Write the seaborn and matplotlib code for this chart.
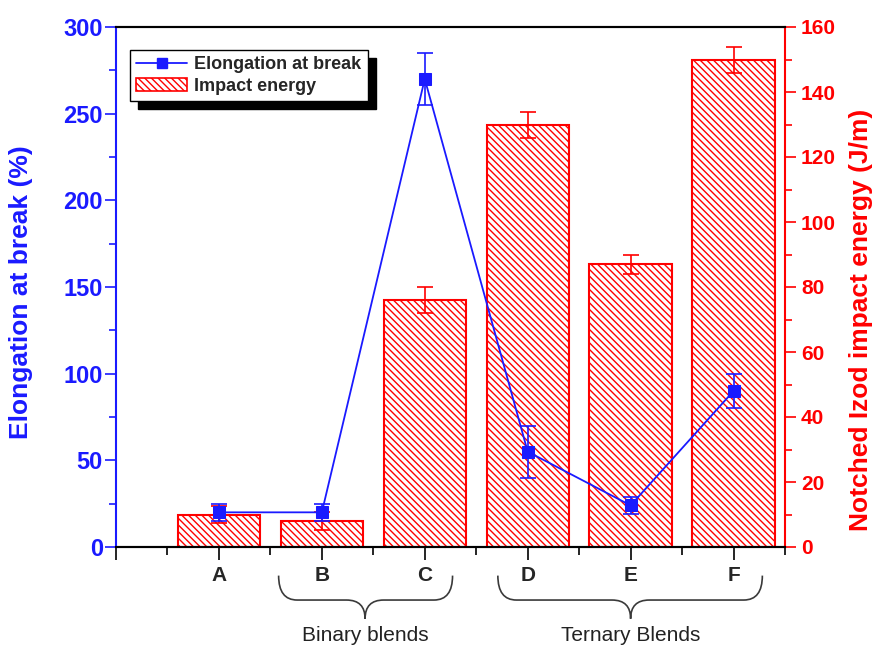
import numpy as np
import pandas as pd
import matplotlib
matplotlib.use("Agg")
import matplotlib.pyplot as plt
import seaborn as sns
from matplotlib.path import Path
from matplotlib.patches import PathPatch, Patch
from matplotlib.lines import Line2D
from matplotlib.ticker import MultipleLocator

# data
samples = ["A", "B", "C", "D", "E", "F"]
positions = [1, 2, 3, 4, 5, 6]
elongation = [20, 20, 270, 55, 24, 90]
elongation_err = [5, 5, 15, 15, 5, 10]
impact = [10, 8, 76, 130, 87, 150]
impact_err = [2.5, 2.7, 4, 4, 3, 4]

groups = ["Binary blends", "Ternary Blends"]
group_span = [(1.58, 3.27, 2.42), (3.71, 6.28, 5.0)]

sns.set_style("ticks")
plt.rcParams["font.family"] = ["Liberation Sans", "DejaVu Sans"]
plt.rcParams["hatch.color"] = "red"
plt.rcParams["hatch.linewidth"] = 1.0

BLUE = "#1a1aff"
RED = "#ff0000"

df = pd.DataFrame({"pos": positions, "sample": samples,
                   "elong": elongation, "impact": impact})

fig = plt.figure(figsize=(8.76, 6.49), dpi=100)
ax = fig.add_axes([116 / 876, 102 / 649, 669 / 876, 520 / 649])
ax2 = ax.twinx()

# bars on the right axis
sns.barplot(data=df, x="pos", y="impact", native_scale=True, ax=ax2,
            width=0.8, facecolor="white", edgecolor=RED, linewidth=1.5,
            hatch="\\\\\\\\\\")
ax2.errorbar(positions, impact, yerr=impact_err, fmt="none", ecolor=RED,
             elinewidth=1.2, capsize=6, capthick=1.2)

# line on the left axis, drawn above the bars
ax.set_zorder(ax2.get_zorder() + 1)
ax.patch.set_visible(False)
sns.lineplot(data=df, x="pos", y="elong", ax=ax, color=BLUE, linewidth=1.3,
             marker="s", markersize=8, markeredgecolor=BLUE)
ax.errorbar(positions, elongation, yerr=elongation_err, fmt="none",
            ecolor=BLUE, elinewidth=1.2, capsize=6, capthick=1.2)

ax.set_xlim(0, 6.5)
ax.set_ylim(0, 300)
ax2.set_ylim(0, 160)
ax.set_xticks([0] + positions)
ax.set_xticklabels([""] + samples, fontsize=15, fontweight="bold")
ax.xaxis.set_minor_locator(MultipleLocator(0.5))
ax.yaxis.set_major_locator(MultipleLocator(50))
ax.yaxis.set_minor_locator(MultipleLocator(25))
ax2.yaxis.set_major_locator(MultipleLocator(20))
ax2.yaxis.set_minor_locator(MultipleLocator(10))

ax.tick_params(axis="x", which="major", length=9, width=1.2, color="black",
               pad=5)
ax.tick_params(axis="x", which="minor", length=6, width=1.2, color="black")
ax.tick_params(axis="y", which="major", length=8, width=1.2, colors=BLUE,
               labelsize=17, pad=1.5)
ax.tick_params(axis="y", which="minor", length=5, width=1.2, colors=BLUE)
ax2.tick_params(axis="y", which="major", length=8, width=1.2, colors=RED,
                labelsize=15)
ax2.tick_params(axis="y", which="minor", length=5, width=1.2, colors=RED)
for lab in ax.get_yticklabels():
    lab.set_fontweight("bold")
for lab in ax2.get_yticklabels():
    lab.set_fontweight("bold")

for a in (ax, ax2):
    a.spines["top"].set_visible(True)
    a.spines["top"].set_color("black")
    a.spines["bottom"].set_color("black")
    a.spines["top"].set_linewidth(1.5)
    a.spines["bottom"].set_linewidth(1.5)
ax.spines["left"].set_color(BLUE)
ax.spines["left"].set_linewidth(1.5)
ax.spines["right"].set_visible(False)
ax2.spines["left"].set_visible(False)
ax2.spines["right"].set_visible(True)
ax2.spines["right"].set_color(RED)
ax2.spines["right"].set_linewidth(1.5)

ax.set_xlabel("")
ax2.set_xlabel("")
ax.set_ylabel("Elongation at break (%)", fontsize=19, fontweight="bold",
              color=BLUE)
ax.yaxis.set_label_coords(-0.124, 0.49)
ax2.set_ylabel("Notched Izod impact energy (J/m)", fontsize=19,
               fontweight="bold", color=RED)
ax2.yaxis.set_label_coords(1.095, 0.437)

# braces and group labels under the x axis
trans = ax.get_xaxis_transform()
y_top, y_mid, y_tip = -0.055, -0.102, -0.138
for name, (x0, x1, xc) in zip(groups, group_span):
    r = 0.18
    verts = [(x0, y_top), (x0, y_mid), (x0 + r, y_mid),
             (xc - r, y_mid),
             (xc, y_mid), (xc, y_tip),
             (xc, y_mid), (xc + r, y_mid),
             (x1 - r, y_mid),
             (x1, y_mid), (x1, y_top)]
    codes = [Path.MOVETO, Path.CURVE3, Path.CURVE3,
             Path.LINETO,
             Path.CURVE3, Path.CURVE3,
             Path.CURVE3, Path.CURVE3,
             Path.LINETO,
             Path.CURVE3, Path.CURVE3]
    ax.add_patch(PathPatch(Path(verts, codes), transform=trans, fill=False,
                           edgecolor="#3a3a3a", linewidth=1.2,
                           clip_on=False))
    ax.text(xc, -0.171, name, transform=trans, ha="center", va="center",
            fontsize=15, color="#222222")

# legend with a solid black shadow
handles = [Line2D([], [], color=BLUE, linewidth=1.3, marker="s",
                  markersize=7),
           Patch(facecolor="white", edgecolor=RED, hatch="\\\\\\\\\\",
                 linewidth=1.2)]
leg = ax.legend(handles, ["Elongation at break", "Impact energy"],
                loc="upper left", bbox_to_anchor=(0.021, 0.956),
                borderaxespad=0, fancybox=False, framealpha=1,
                edgecolor="black", handlelength=2.8, handletextpad=0.4,
                labelspacing=0.25, borderpad=0.35,
                prop={"size": 13, "weight": "bold"},
                shadow={"ox": 6, "oy": -6, "color": "black", "alpha": 1})
leg.get_frame().set_linewidth(1.0)

fig.savefig("out.png", dpi=100)
